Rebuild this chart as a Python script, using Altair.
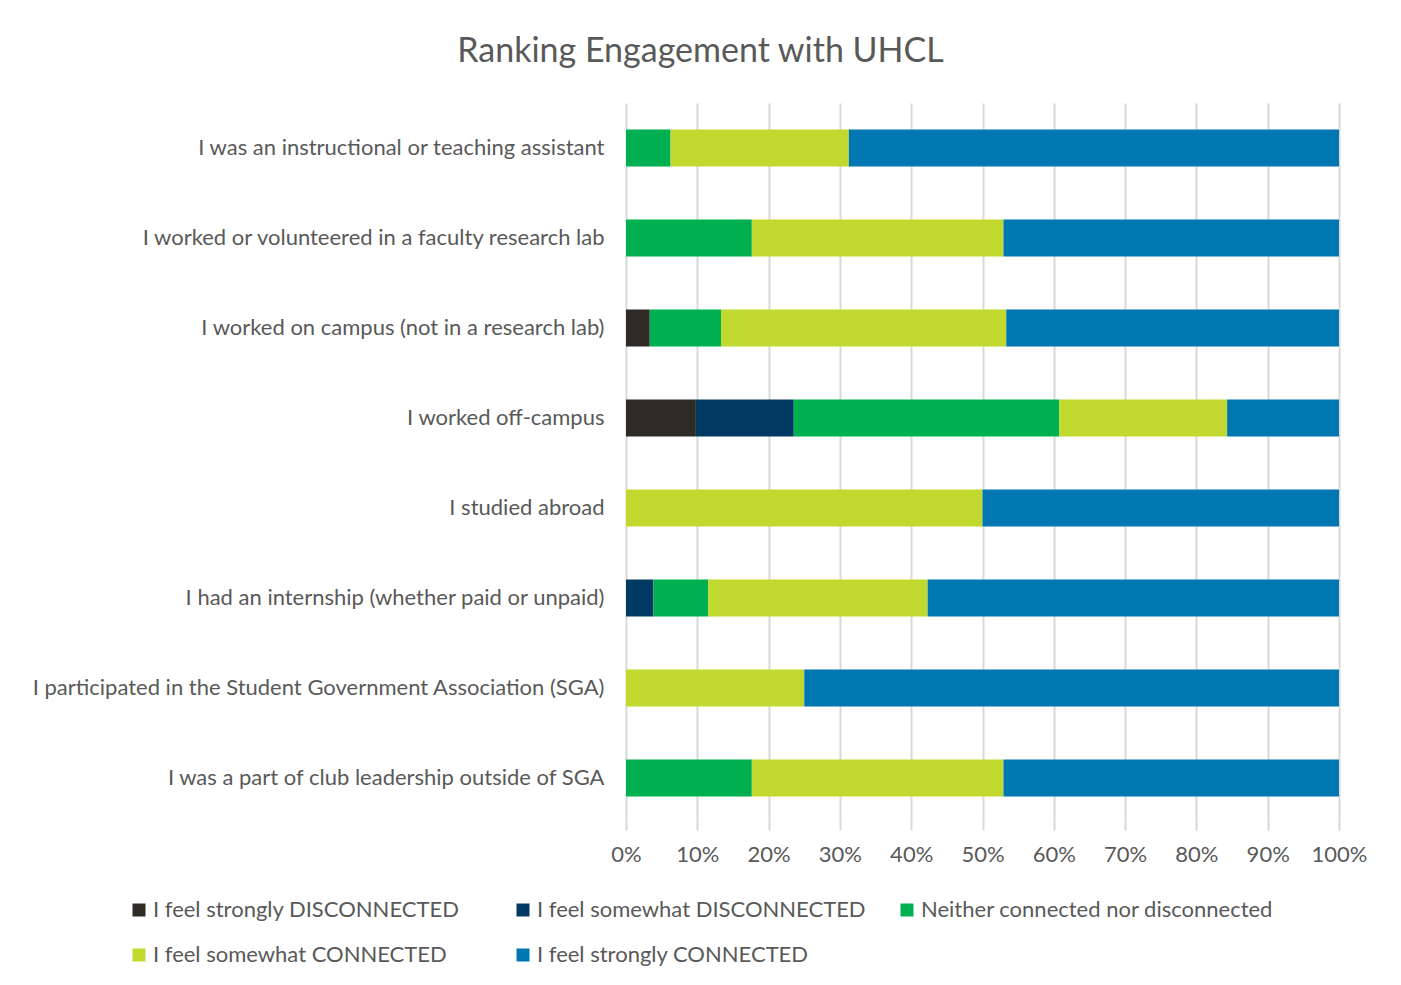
import altair as alt
import pandas as pd

questions = [
    "I was an instructional or teaching assistant",
    "I worked or volunteered in a faculty research lab",
    "I worked on campus (not in a research lab)",
    "I worked off-campus",
    "I studied abroad",
    "I had an internship (whether paid or unpaid)",
    "I participated in the Student Government Association (SGA)",
    "I was a part of club leadership outside of SGA",
]
levels = [
    "I feel strongly DISCONNECTED",
    "I feel somewhat DISCONNECTED",
    "Neither connected nor disconnected",
    "I feel somewhat CONNECTED",
    "I feel strongly CONNECTED",
]
colors = ["#2E2A26", "#003A63", "#00B050", "#C1D82F", "#0077B0"]

strongly_disconnected = [0.0, 0.0, 3.33, 9.80, 0.0, 0.0, 0.0, 0.0]
somewhat_disconnected = [0.0, 0.0, 0.0, 13.73, 0.0, 3.85, 0.0, 0.0]
neither = [6.25, 17.65, 10.0, 37.25, 0.0, 7.69, 0.0, 17.65]
somewhat_connected = [25.0, 35.29, 40.0, 23.53, 50.0, 30.77, 25.0, 35.29]
strongly_connected = [68.75, 47.06, 46.67, 15.69, 50.0, 57.69, 75.0, 47.06]

series = [strongly_disconnected, somewhat_disconnected, neither,
          somewhat_connected, strongly_connected]

rows = []
for li, (lev, vals) in enumerate(zip(levels, series)):
    for q, v in zip(questions, vals):
        rows.append({"question": q, "level": lev, "order": li, "value": v / 100.0})
df = pd.DataFrame(rows)

FONT = "Lato"
GREY = "#595959"
FS = 22

chart = alt.Chart(df).mark_bar(size=37).encode(
    y=alt.Y("question:N", sort=questions, title=None,
            scale=alt.Scale(paddingInner=0.59, paddingOuter=0.295),
            axis=alt.Axis(labelFontSize=FS, labelColor=GREY, labelFont=FONT,
                          labelPadding=22, ticks=False, domain=False,
                          labelLimit=0, grid=False)),
    x=alt.X("value:Q", stack="zero", title=None,
            scale=alt.Scale(domain=[0, 1], nice=False),
            axis=alt.Axis(format="%", values=[i / 10 for i in range(11)],
                          labelFontSize=FS, labelColor=GREY, labelFont=FONT,
                          labelFlush=False,
                          grid=True, gridColor="#D9D9D9", gridWidth=2,
                          tickColor="#D9D9D9", tickWidth=2, tickSize=7,
                          domain=False, labelPadding=14)),
    color=alt.Color("level:N", sort=levels,
                    scale=alt.Scale(domain=levels, range=colors),
                    legend=alt.Legend(title=None, orient="none",
                                      legendX=-498, legendY=796,
                                      direction="horizontal", columns=3,
                                      gridAlign="all", symbolType="square",
                                      symbolSize=169, symbolStrokeWidth=0,
                                      labelFontSize=FS, labelColor=GREY,
                                      labelFont=FONT, labelLimit=0,
                                      labelOffset=3, columnPadding=6,
                                      rowPadding=23, padding=0)),
    order=alt.Order("order:Q"),
).properties(
    width=713,
    height=720,
    title=alt.TitleParams("Ranking Engagement with UHCL", fontSize=34,
                          font=FONT, fontWeight="normal", color=GREY,
                          anchor="middle", dx=-282, offset=34),
    autosize=alt.AutoSizeParams(type="none"),
    padding={"left": 618, "top": 95, "right": 54, "bottom": 150},
).configure_view(stroke=None)

chart.save("out.html", embed_options={"renderer": "svg", "actions": False})
